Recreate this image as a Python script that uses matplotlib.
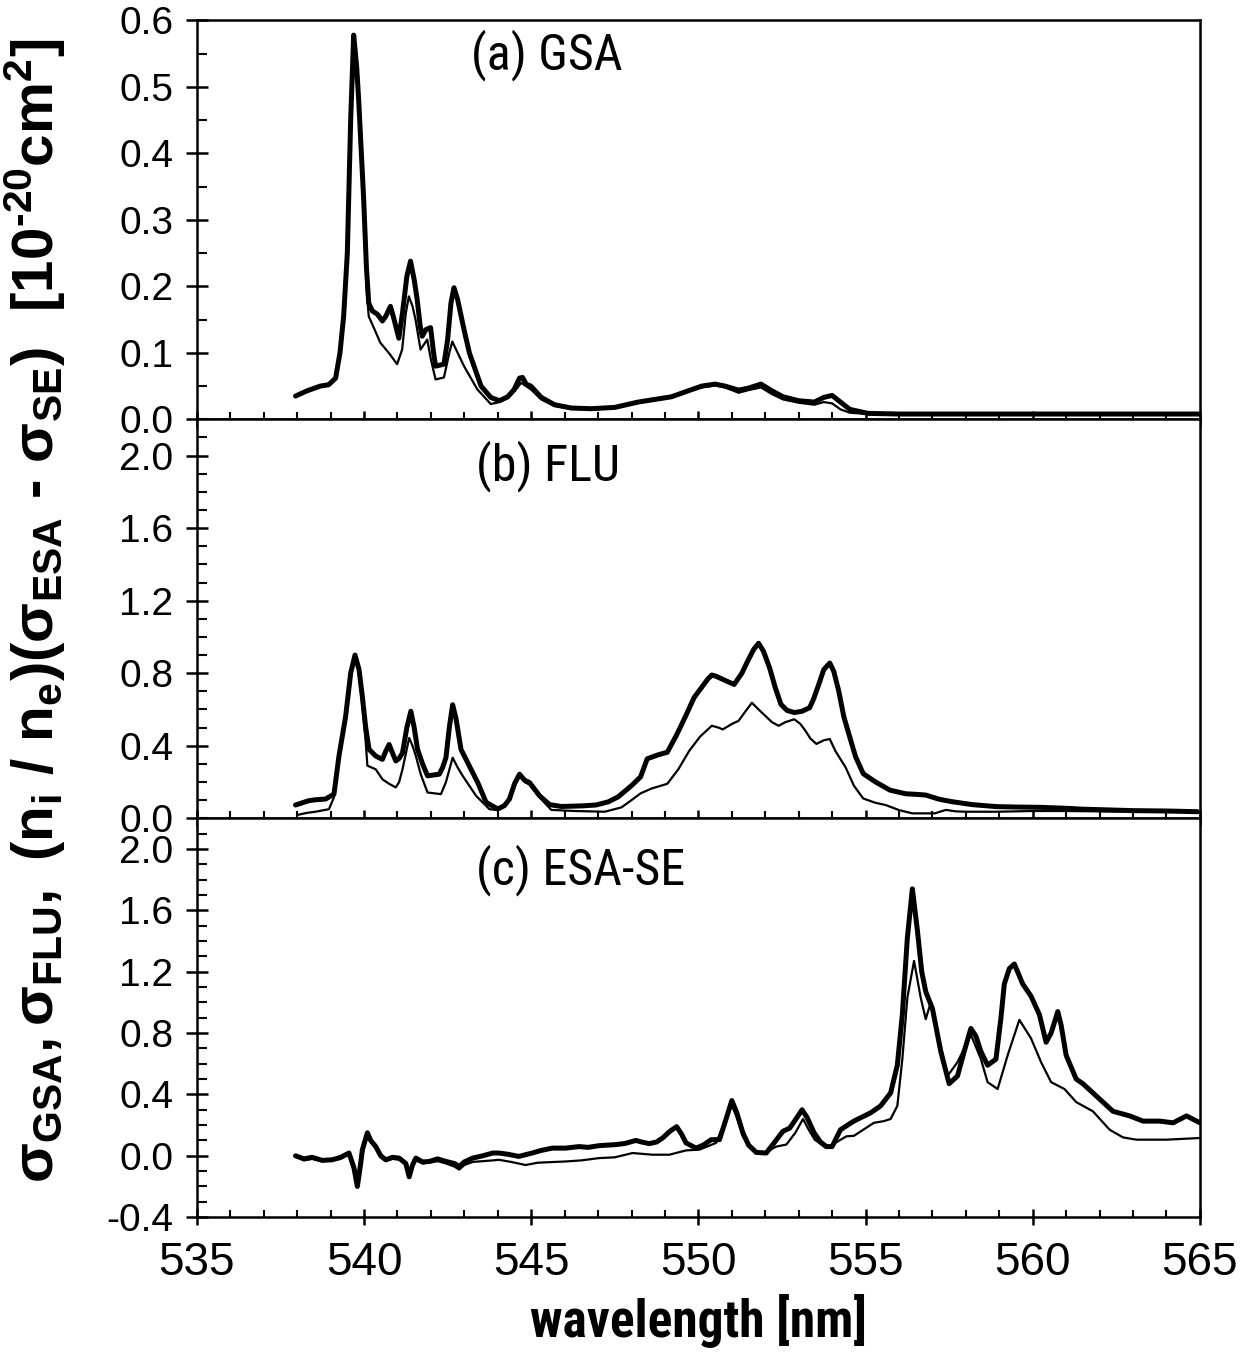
import os
import matplotlib
matplotlib.use('Agg')
import matplotlib.pyplot as plt
from matplotlib import font_manager
from matplotlib.font_manager import FontProperties
from matplotlib.ticker import MultipleLocator, FormatStrFormatter

# ---- data ----
gsa_x_thick = [537.95, 538.3, 538.69, 538.94, 539.15, 539.28, 539.39, 539.5, 539.6, 539.69, 539.78, 539.84,
               539.92, 539.99, 540.07, 540.14, 540.25, 540.4, 540.55, 540.65, 540.79, 540.9, 541.04, 541.15,
               541.28, 541.39, 541.5, 541.59, 541.68, 541.74, 541.85, 541.99, 542.08, 542.14, 542.39, 542.5,
               542.6, 542.69, 542.8, 542.99, 543.15, 543.29, 543.5, 543.79, 544.05, 544.3, 544.49, 544.65,
               544.74, 544.85, 544.99, 545.3, 545.7, 546.2, 546.8, 547.5, 548.2, 548.7, 549.2, 549.7, 550.1,
               550.5, 550.8, 551.2, 551.5, 551.87, 552.2, 552.53, 553.0, 553.47, 553.75, 554.0, 554.25,
               554.53, 555.07, 556.0, 558.0, 560.0, 562.0, 565.0]
gsa_thick = [0.035, 0.043, 0.05, 0.052, 0.062, 0.1, 0.155, 0.25, 0.45, 0.578, 0.53, 0.48,
             0.40, 0.33, 0.23, 0.175, 0.163, 0.158, 0.148, 0.155, 0.17, 0.15, 0.122, 0.16,
             0.215, 0.238, 0.21, 0.18, 0.14, 0.125, 0.135, 0.138, 0.1, 0.08, 0.083, 0.12,
             0.175, 0.198, 0.18, 0.135, 0.1, 0.08, 0.05, 0.033, 0.028, 0.034, 0.045, 0.062,
             0.063, 0.053, 0.05, 0.033, 0.022, 0.017, 0.016, 0.018, 0.026, 0.03, 0.034, 0.043, 0.05,
             0.053, 0.05, 0.044, 0.047, 0.053, 0.043, 0.034, 0.028, 0.026, 0.033, 0.036, 0.026,
             0.015, 0.009, 0.008, 0.008, 0.008, 0.008, 0.008]

gsa_x_thin = [537.95, 538.3, 538.69, 538.94, 539.15, 539.28, 539.39, 539.5, 539.6, 539.69, 539.78, 539.84,
              539.92, 539.99, 540.07, 540.14, 540.29, 540.49, 540.74, 540.99, 541.14, 541.25, 541.34,
              541.45, 541.54, 541.69, 541.89, 542.0, 542.14, 542.39, 542.55, 542.64, 542.8, 542.99,
              543.39, 543.79, 544.05, 544.3, 544.5, 544.7, 544.99, 545.3, 545.7, 546.2, 546.8, 547.5,
              548.2, 548.7, 549.2, 549.7, 550.1, 550.5, 550.8, 551.2, 551.5, 551.87, 552.2, 552.53,
              553.0, 553.47, 553.75, 554.0, 554.25, 554.53, 555.07, 556.0, 558.0, 560.0, 562.0, 565.0]
gsa_thin = [0.035, 0.043, 0.05, 0.052, 0.062, 0.1, 0.155, 0.25, 0.45, 0.578, 0.53, 0.48,
            0.40, 0.33, 0.2, 0.155, 0.138, 0.115, 0.1, 0.083, 0.105, 0.16, 0.185,
            0.17, 0.15, 0.105, 0.12, 0.09, 0.06, 0.063, 0.1, 0.117, 0.1, 0.08,
            0.045, 0.023, 0.026, 0.032, 0.042, 0.055, 0.045, 0.03, 0.02, 0.016, 0.015, 0.017,
            0.025, 0.029, 0.033, 0.042, 0.048, 0.051, 0.048, 0.04, 0.044, 0.048, 0.038, 0.03,
            0.025, 0.022, 0.026, 0.024, 0.015, 0.01, 0.008, 0.008, 0.008, 0.008, 0.008, 0.008]

flu_x_thick = [537.95, 538.35, 538.55, 538.85, 539.1, 539.25, 539.45, 539.6, 539.73, 539.85, 539.95, 540.05,
               540.15, 540.35, 540.55, 540.65, 540.75, 540.85, 540.95, 541.05, 541.15, 541.28, 541.4,
               541.5, 541.6, 541.75, 541.9, 542.25, 542.35, 542.45, 542.55, 542.65, 542.75, 542.9,
               543.15, 543.4, 543.65, 544.0, 544.2, 544.35, 544.5, 544.65, 544.8, 544.95, 545.25,
               545.55, 545.9, 546.5, 546.93, 547.3, 547.6, 548.0, 548.27, 548.47, 548.8, 549.07, 549.35,
               549.6, 549.87, 550.27, 550.4, 550.53, 550.8, 551.07, 551.3, 551.47, 551.65, 551.8, 551.95,
               552.13, 552.3, 552.47, 552.65, 552.87, 553.1, 553.33, 553.45, 553.6, 553.75, 553.93,
               554.05, 554.2, 554.35, 554.53, 554.7, 554.93, 555.3, 555.73, 556.2, 556.5, 556.8, 557.2,
               557.6, 558.2, 558.93, 559.5, 560.27, 561.0, 561.5, 562.27, 563.0, 564.0, 564.93]
flu_thick = [0.073, 0.097, 0.102, 0.106, 0.133, 0.343, 0.562, 0.8, 0.9, 0.82, 0.67, 0.5,
             0.38, 0.343, 0.325, 0.37, 0.407, 0.36, 0.316, 0.33, 0.36, 0.5, 0.59,
             0.5, 0.38, 0.3, 0.234, 0.243, 0.28, 0.334, 0.5, 0.626, 0.55, 0.38,
             0.288, 0.197, 0.088, 0.051, 0.07, 0.106, 0.19, 0.243, 0.21, 0.197, 0.124,
             0.075, 0.065, 0.068, 0.073, 0.09, 0.118, 0.18, 0.228, 0.328, 0.35, 0.364, 0.46,
             0.556, 0.665, 0.765, 0.79, 0.783, 0.76, 0.738, 0.8, 0.865, 0.93, 0.965, 0.92,
             0.829, 0.72, 0.628, 0.595, 0.583, 0.59, 0.61, 0.66, 0.738, 0.82, 0.856,
             0.81, 0.7, 0.56, 0.446, 0.34, 0.246, 0.2, 0.155, 0.135, 0.132, 0.128, 0.105,
             0.091, 0.075, 0.064, 0.062, 0.06, 0.055, 0.05, 0.046, 0.042, 0.04, 0.036]

flu_x_thin = [538.05, 538.3, 538.55, 538.95, 539.1, 539.25, 539.45, 539.6, 539.73, 539.85, 539.95, 540.05,
              540.1, 540.35, 540.55, 540.75, 540.95, 541.05, 541.15, 541.35, 541.45, 541.55, 541.7,
              541.9, 542.3, 542.45, 542.65, 542.8, 542.95, 543.35, 543.75, 544.0, 544.2, 544.35, 544.5,
              544.65, 544.8, 544.95, 545.25, 545.6, 546.3, 547.2, 547.7, 548.0, 548.27, 548.6, 549.07,
              549.4, 549.73, 550.05, 550.4, 550.6, 550.73, 551.0, 551.2, 551.45, 551.6, 551.8, 552.0,
              552.2, 552.4, 552.6, 552.87, 553.05, 553.2, 553.35, 553.53, 553.75, 553.93, 554.1, 554.4,
              554.65, 554.93, 555.3, 555.6, 556.0, 556.4, 557.07, 557.4, 557.7, 558.0, 558.93, 560.0,
              561.0, 562.0, 563.0, 564.0, 564.93]
flu_thin = [0.02, 0.03, 0.036, 0.05, 0.115, 0.33, 0.55, 0.79, 0.88, 0.8, 0.62, 0.42,
            0.29, 0.27, 0.215, 0.19, 0.17, 0.2, 0.27, 0.443, 0.4, 0.343, 0.24,
            0.142, 0.133, 0.2, 0.334, 0.28, 0.234, 0.124, 0.05, 0.045, 0.065, 0.1, 0.18,
            0.235, 0.2, 0.185, 0.115, 0.046, 0.04, 0.036, 0.06, 0.1, 0.137, 0.164, 0.19,
            0.27, 0.373, 0.45, 0.51, 0.5, 0.49, 0.52, 0.537, 0.6, 0.637, 0.6, 0.565,
            0.53, 0.51, 0.53, 0.546, 0.52, 0.483, 0.44, 0.41, 0.43, 0.437, 0.37, 0.282,
            0.18, 0.109, 0.085, 0.073, 0.045, 0.027, 0.027, 0.046, 0.038, 0.036, 0.036, 0.04,
            0.04, 0.038, 0.037, 0.036, 0.035]

esa_x_thick = [537.95, 538.2, 538.45, 538.75, 539.05, 539.3, 539.55, 539.7, 539.8, 539.9, 539.95, 540.1,
               540.2, 540.35, 540.5, 540.65, 540.85, 541.05, 541.25, 541.35, 541.45, 541.55, 541.75,
               541.95, 542.2, 542.45, 542.7, 542.85, 543.0, 543.25, 543.55, 543.85, 544.03, 544.3,
               544.63, 545.03, 545.3, 545.63, 546.03, 546.43, 546.7, 547.03, 547.53, 547.8, 548.13,
               548.3, 548.53, 548.75, 548.93, 549.15, 549.35, 549.5, 549.63, 549.93, 550.15, 550.38,
               550.63, 550.8, 551.0, 551.15, 551.33, 551.5, 551.73, 552.03, 552.25, 552.53, 552.73,
               552.95, 553.1, 553.25, 553.46, 553.65, 553.83, 554.0, 554.25, 554.65, 555.15, 555.45,
               555.75, 555.95, 556.1, 556.25, 556.4, 556.55, 556.68, 556.8, 557.0, 557.25, 557.5,
               557.75, 557.95, 558.15, 558.3, 558.45, 558.65, 558.9, 559.05, 559.15, 559.3, 559.45,
               559.7, 559.95, 560.2, 560.4, 560.55, 560.75, 560.85, 561.0, 561.3, 561.5, 562.0,
               562.4, 562.9, 563.3, 563.8, 564.2, 564.6, 565.0]
esa_thick = [0.0, -0.02, -0.01, -0.03, -0.026, -0.01, 0.018, -0.08, -0.2, -0.05, 0.04, 0.15,
             0.1, 0.06, 0.0, -0.026, -0.01, -0.015, -0.05, -0.137, -0.06, -0.015, -0.04,
             -0.037, -0.02, -0.037, -0.05, -0.07, -0.04, -0.015, 0.0, 0.018, 0.018, 0.01,
             -0.004, 0.018, 0.035, 0.05, 0.05, 0.06, 0.055, 0.066, 0.073, 0.08, 0.1,
             0.09, 0.079, 0.09, 0.116, 0.16, 0.19, 0.14, 0.084, 0.05, 0.07, 0.105,
             0.105, 0.22, 0.36, 0.28, 0.15, 0.07, 0.022, 0.018, 0.08, 0.16, 0.18,
             0.25, 0.3, 0.25, 0.15, 0.09, 0.06, 0.06, 0.17, 0.226, 0.28, 0.325,
             0.41, 0.59, 0.92, 1.42, 1.74, 1.47, 1.2, 1.07, 0.96, 0.68, 0.47,
             0.52, 0.68, 0.83, 0.78, 0.68, 0.59, 0.63, 0.9, 1.12, 1.22, 1.25,
             1.12, 1.04, 0.92, 0.74, 0.8, 0.94, 0.85, 0.655, 0.5, 0.47, 0.37,
             0.29, 0.26, 0.226, 0.226, 0.215, 0.26, 0.215]

esa_x_thin = [537.95, 538.2, 538.45, 538.75, 539.05, 539.3, 539.55, 539.7, 539.8, 539.9, 540.0, 540.1,
              540.2, 540.35, 540.5, 540.65, 540.85, 541.05, 541.25, 541.35, 541.45, 541.55, 541.75,
              541.95, 542.2, 542.45, 542.7, 542.85, 543.0, 543.25, 543.55, 543.85, 544.03, 544.4,
              544.83, 545.2, 546.03, 546.5, 547.03, 547.5, 548.03, 548.63, 549.13, 549.63, 550.03,
              550.53, 550.75, 551.0, 551.15, 551.33, 551.6, 551.93, 552.33, 552.63, 552.9, 553.13,
              553.3, 553.48, 553.83, 554.43, 554.65, 555.25, 555.55, 555.75, 555.95, 556.1, 556.25,
              556.45, 556.65, 556.8, 556.95, 557.15, 557.45, 557.75, 558.15, 558.45, 558.65, 558.95,
              559.25, 559.6, 559.95, 560.25, 560.55, 560.95, 561.3, 561.8, 562.3, 562.7, 563.1,
              564.0, 565.0]
esa_thin = [0.0, -0.03, -0.02, -0.035, -0.03, -0.02, 0.01, -0.06, -0.16, -0.04, 0.05, 0.13,
            0.09, 0.05, -0.01, -0.035, -0.02, -0.025, -0.06, -0.13, -0.07, -0.03, -0.05,
            -0.045, -0.035, -0.05, -0.07, -0.09, -0.06, -0.04, -0.035, -0.03, -0.026, -0.04,
            -0.06, -0.045, -0.037, -0.03, -0.015, -0.01, 0.018, 0.007, 0.007, 0.035, 0.04,
            0.084, 0.2, 0.33, 0.25, 0.127, 0.04, 0.013, 0.06, 0.073, 0.15, 0.24,
            0.17, 0.105, 0.05, 0.127, 0.13, 0.215, 0.226, 0.24, 0.325, 0.63, 1.03,
            1.27, 1.03, 0.89, 1.0, 0.81, 0.52, 0.61, 0.79, 0.63, 0.48, 0.435,
            0.655, 0.886, 0.765, 0.61, 0.48, 0.435, 0.35, 0.29, 0.17, 0.12, 0.105,
            0.105, 0.116]

panel_labels = ['(a) GSA', '(b) FLU', '(c) ESA-SE']
xticks = [535, 540, 545, 550, 555, 560, 565]


# ---- fonts: look for a narrow / condensed face ----
def find_face(patterns):
    files = {os.path.basename(f.fname): f.fname for f in font_manager.fontManager.ttflist}
    for p in patterns:
        for name, path in files.items():
            if name.lower() == p.lower():
                return path
    return None


narrow_reg = find_face(['LiberationSansNarrow-Regular.ttf', 'RobotoCondensed-Regular.ttf',
                        'DejaVuSansCondensed.ttf'])
narrow_bold = find_face(['LiberationSansNarrow-Bold.ttf', 'RobotoCondensed-Bold.ttf',
                         'DejaVuSansCondensed-Bold.ttf'])
if narrow_reg:
    fp_panel = FontProperties(fname=narrow_reg, size=36)
else:
    fp_panel = FontProperties(family='Liberation Sans', size=32)
if narrow_bold:
    fp_xlab = FontProperties(fname=narrow_bold, size=37)
else:
    fp_xlab = FontProperties(family='Liberation Sans', weight='bold', size=33)

plt.rcParams['font.family'] = ['Liberation Sans', 'DejaVu Sans']
plt.rcParams['axes.unicode_minus'] = False
plt.rcParams['mathtext.fontset'] = 'custom'
plt.rcParams['mathtext.rm'] = 'Liberation Sans:bold'
plt.rcParams['mathtext.it'] = 'Liberation Sans:bold'
plt.rcParams['mathtext.bf'] = 'Liberation Sans:bold'

fig = plt.figure(figsize=(12.46, 13.63), dpi=100)
gs = fig.add_gridspec(3, 1, left=0.158, right=0.963, top=0.985, bottom=0.107, hspace=0)
axes = [fig.add_subplot(gs[i]) for i in range(3)]

series = [(gsa_x_thick, gsa_thick, gsa_x_thin, gsa_thin),
          (flu_x_thick, flu_thick, flu_x_thin, flu_thin),
          (esa_x_thick, esa_thick, esa_x_thin, esa_thin)]
ylims = [(0, 0.6), (0, 2.2), (-0.4, 2.2)]
ymajor = [0.1, 0.4, 0.4]
yminor = [0.05, 0.1, 0.1]
label_pos = [(0.273, 0.913), (0.278, 0.883), (0.278, 0.87)]

for i, ax in enumerate(axes):
    xt, yt, xn, yn = series[i]
    ax.plot(xn, yn, color='black', lw=1.6, solid_joinstyle='round')
    ax.plot(xt, yt, color='black', lw=3.6, solid_joinstyle='round', solid_capstyle='round')
    ax.set_xlim(535, 565)
    ax.set_ylim(*ylims[i])
    ax.xaxis.set_major_locator(MultipleLocator(5))
    ax.xaxis.set_minor_locator(MultipleLocator(1))
    ax.yaxis.set_major_locator(MultipleLocator(ymajor[i]))
    ax.yaxis.set_minor_locator(MultipleLocator(yminor[i]))
    ax.yaxis.set_major_formatter(FormatStrFormatter('%.1f'))
    ax.tick_params(axis='y', which='major', direction='inout', length=16, width=1.8,
                   labelsize=28, pad=9)
    ax.tick_params(axis='y', which='minor', direction='in', length=7, width=1.5)
    ax.tick_params(axis='x', which='major', direction='inout', length=11, width=1.8,
                   labelsize=33, pad=12)
    ax.tick_params(axis='x', which='minor', direction='in', length=5, width=1.5)
    ax.set_xticks(xticks)
    if i < 2:
        ax.tick_params(axis='x', labelbottom=False)
    for s in ax.spines.values():
        s.set_linewidth(1.8)
    ax.text(label_pos[i][0], label_pos[i][1], panel_labels[i], transform=ax.transAxes,
            ha='left', va='center', fontproperties=fp_panel)

axes[2].set_xlabel('wavelength [nm]', fontproperties=fp_xlab, labelpad=6)

ylab = (r'$\mathbf{σ_{GSA},σ_{FLU},\ (n_i\ /\ n_e)(σ_{ESA}\ \text{-}\ σ_{SE})\ \ '
        r'[10^{\text{-}20}cm^2]}$')
fig.text(0.028, 0.552, ylab, rotation=90, ha='center', va='center', fontsize=42)

fig.savefig('out.png', dpi=100)
